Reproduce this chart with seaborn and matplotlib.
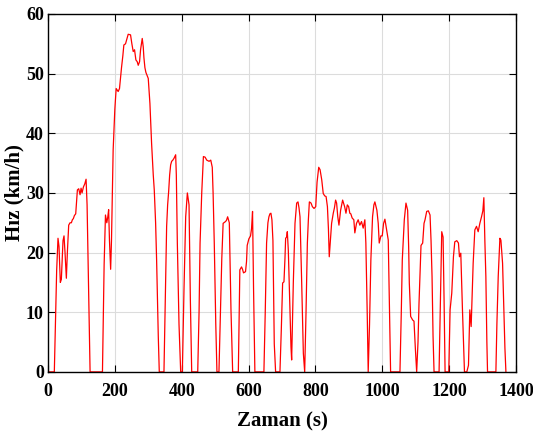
import matplotlib
matplotlib.use("Agg")
import matplotlib.pyplot as plt
import seaborn as sns
import pandas as pd

# hız profili (zaman s, hız km/h) - grafikten okunan noktalar
zaman = [0, 19, 26, 30, 33, 37, 40, 45, 48, 51, 55, 58, 62, 66, 70, 73, 76, 79, 83, 88,
         92, 96, 99, 102, 106, 110, 114, 117, 126, 163, 168, 172, 176, 179, 181.5, 184, 187.5, 190, 195, 200,
         204, 210, 214, 220, 224, 227, 232, 236, 240, 247, 251, 255, 259, 263, 267, 270, 274, 277, 282, 285,
         287, 290, 293, 300, 305, 310, 315, 318, 322, 325, 330, 333, 347, 351, 355, 358, 361, 364, 367, 370,
         373.5, 377, 382, 384, 387, 392, 397, 402, 407, 412, 417, 422, 426, 430, 448, 452, 455, 460, 465, 470,
         475, 482, 487, 491.5, 494, 497.5, 502, 505.5, 511.5, 516, 520, 524, 531, 534, 537.5, 542.5, 545, 547.5, 552.5, 569.5,
         572, 574, 579, 582, 585, 591, 594, 596, 601, 606, 609, 612, 615, 619, 646, 650, 654, 658, 661, 664,
         667, 670, 673, 677, 681, 694, 698, 702, 706, 709, 711, 714, 716, 719, 723, 727, 729, 734, 739, 744,
         748, 751, 754, 759, 764, 768, 772, 776, 779, 782, 787, 791, 796, 801, 805, 810, 814, 819, 823.5, 828,
         832, 836, 839, 841.5, 845, 848.5, 853.5, 857, 860.5, 863.5, 867, 870.5, 875.5, 881.5, 887.5, 891.5, 895.5, 899.5, 903, 906,
         910, 915, 918, 923, 928, 933, 938, 943, 948, 951, 955, 958, 962, 966, 971, 975, 978, 984, 988, 991,
         996, 1000, 1004, 1008, 1013, 1018, 1022, 1025, 1053, 1057, 1060, 1066, 1071, 1076, 1079, 1081, 1085, 1091, 1095, 1099,
         1103, 1107, 1110, 1116, 1121, 1125, 1128, 1133, 1138, 1143, 1146, 1149, 1152, 1155, 1170, 1174, 1178, 1182, 1185, 1188,
         1199, 1203, 1208, 1213, 1217, 1223, 1228, 1231, 1235, 1240, 1246, 1253, 1258, 1262, 1266, 1272, 1277, 1282, 1287, 1292,
         1297, 1301, 1304, 1307, 1310, 1313, 1315, 1340, 1343, 1347, 1352, 1355, 1360, 1364, 1367, 1370]
hiz = [0, 0, 17, 22.4, 21, 15, 15.5, 22, 22.8, 20, 15.7, 20, 24.6, 25, 25, 25.5, 25.7, 26.2, 26.5, 30.5,
       30.7, 29.7, 30.8, 30, 31, 31.5, 32.3, 28, 0, 0, 18, 26.3, 25, 26, 27.2, 22, 17.2, 22, 37.2, 44,
       47.5, 47, 47.5, 51, 53, 54.8, 55, 55.8, 56.6, 56.5, 55, 53.7, 54, 52.3, 52, 51.4, 52, 54, 55.9, 54.5,
       52.7, 51, 50.2, 49.2, 45, 38.3, 33, 30.5, 25, 18.8, 6, 0, 0, 12, 24.4, 28, 30.2, 33, 34.7, 35.3,
       35.5, 35.8, 36.4, 33, 21.6, 8, 0, 0, 14, 26, 30, 28, 12, 0, 0, 10, 21.6, 30, 36.1, 36,
       35.5, 35.3, 35.5, 34.3, 30, 21.6, 8, 0, 0, 10, 19, 24.9, 25.2, 25.4, 26, 25, 18, 10.4, 0, 0,
       10, 17.1, 17.6, 17.2, 16.6, 16.8, 18.5, 21.2, 22.3, 22.8, 24, 26.9, 14, 0, 0, 10, 21.6, 25, 26, 26.5,
       26.6, 25.5, 22, 4.7, 0, 0, 7, 14.9, 15.1, 19, 22.4, 22.6, 23.5, 20.4, 12, 4.2, 2, 15, 24.9, 28.3,
       28.5, 27.5, 26, 15, 3.1, 0, 10, 21.6, 25.5, 28.5, 28.3, 27.7, 27.4, 27.7, 31.8, 34.3, 33.9, 32.2, 29.9, 29.5,
       29.4, 27.7, 24, 19.3, 22, 24.9, 26.6, 27.5, 28.8, 28.3, 26, 24.6, 27.1, 28.8, 27.7, 26.6, 28, 27.7, 26.6, 26.5,
       25.8, 25.5, 23.3, 24.9, 25.5, 24.6, 25.2, 24.1, 25.5, 21.6, 10, 0, 8, 18.8, 26, 28, 28.5, 27.1, 24.9, 21.6,
       22.8, 22.8, 24.9, 25.6, 23.8, 22.1, 10, 0, 0, 10, 18.8, 25.5, 28.3, 27.1, 21, 14.9, 9.3, 8.7, 8.5, 4,
       0, 5, 11.5, 21.2, 21.6, 24.9, 25.5, 26.9, 27, 26.3, 22, 16, 6, 0, 0, 12, 23.5, 22.6, 12, 0,
       0, 10.4, 13.2, 19.3, 21.8, 22, 21.6, 19.3, 19.9, 10.4, 0, 0, 1.1, 10.4, 7.6, 18.2, 23.8, 24.4, 23.5, 24.9,
       26, 27, 29.2, 22, 16, 5, 0, 0, 8, 16, 22.4, 22.1, 18.2, 10.4, 4, 0]

x_ticks = [0, 200, 400, 600, 800, 1000, 1200, 1400]
y_ticks = [0, 10, 20, 30, 40, 50, 60]

df = pd.DataFrame({"Zaman": zaman, "Hiz": hiz})

sns.set_theme(style="whitegrid")
plt.rcParams['font.family'] = ['Liberation Serif', 'DejaVu Serif']
plt.rcParams['font.weight'] = 'bold'

fig = plt.figure(figsize=(5.33, 4.37), dpi=100)
ax = fig.add_axes([0.090, 0.149, 0.878, 0.819])
sns.lineplot(data=df, x="Zaman", y="Hiz", color="#ff0000", linewidth=0.9,
             estimator=None, sort=False, ax=ax)

ax.set_xlim(0, 1400)
ax.set_ylim(0, 60)
ax.set_xticks(x_ticks)
ax.set_yticks(y_ticks)
ax.set_xticklabels([str(t) for t in x_ticks], fontsize=13, fontweight='bold')
ax.set_yticklabels([str(t) for t in y_ticks], fontsize=13, fontweight='bold')
ax.set_xlabel("Zaman (s)", fontsize=15, fontweight='bold', labelpad=8, color='black')
ax.set_ylabel("Hız (km/h)", fontsize=15, fontweight='bold', labelpad=1, color='black')

ax.set_facecolor("white")
ax.grid(True, color="#dcdcdc", linewidth=0.8)
for s in ax.spines.values():
    s.set_color("black")
    s.set_linewidth(1.0)
ax.tick_params(direction='in', length=5, width=0.8, color='black',
               top=True, right=True, bottom=True, left=True, labelcolor='black')
ax.tick_params(axis='x', pad=8)
ax.tick_params(axis='y', pad=3)

fig.savefig("out.png", dpi=100, facecolor="white")
